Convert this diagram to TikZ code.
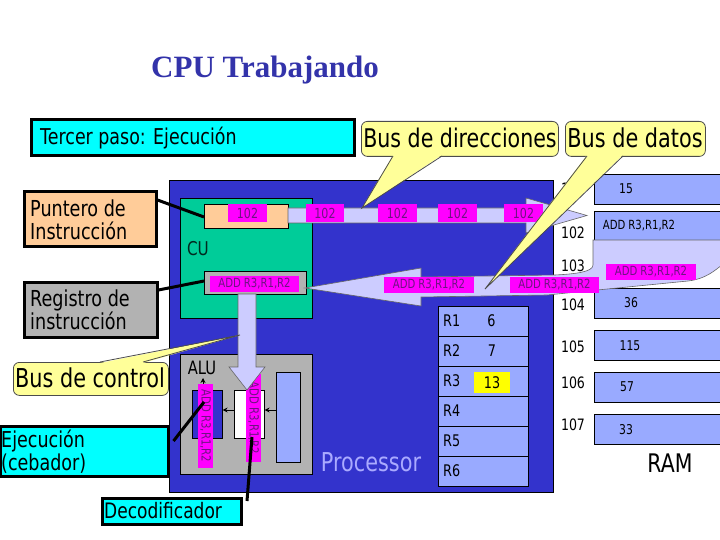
\documentclass[tikz,border=0pt]{standalone}
\usepackage{fontspec}
\setmainfont{DejaVu Sans}[FakeStretch=0.8]
\newfontfamily\ttlfont{Liberation Serif}
\usetikzlibrary{arrows.meta}
\definecolor{procblue}{RGB}{51,51,204}
\definecolor{cugreen}{RGB}{0,204,153}
\definecolor{peach}{RGB}{255,204,153}
\definecolor{greybox}{RGB}{178,178,178}
\definecolor{lav}{RGB}{204,204,255}
\definecolor{magbox}{RGB}{255,0,255}
\definecolor{magtext}{RGB}{110,20,130}
\definecolor{cellblue}{RGB}{153,170,255}
\definecolor{cyanbox}{RGB}{0,255,255}
\definecolor{callyellow}{RGB}{255,255,153}
\definecolor{hilite}{RGB}{255,255,0}
\definecolor{titleblue}{RGB}{51,51,170}
\definecolor{proctext}{RGB}{170,170,255}
\newcommand\fsz[2]{\fontsize{#1}{#2}\selectfont}
\begin{document}
\begin{tikzpicture}[x=1pt,y=-1pt,
  lblbox/.style={draw=black, line width=3pt, inner sep=0pt},
  callout/.style={draw=black!70, fill=callyellow, line width=0.8pt, rounded corners=6pt},
  wedge/.style={draw=black!70, line width=0.8pt},
  magl/.style={fill=magbox, text=magtext, inner sep=0pt, font=\fsz{12.6}{13}},
  cell/.style={draw=black, fill=cellblue, line width=1.2pt, inner sep=0pt},
  addr/.style={font=\fsz{15.7}{16}, inner sep=0pt},
  celltext/.style={font=\fsz{13.5}{14}, inner sep=0pt},
  bus/.style={fill=lav, draw=black!60, line width=0.6pt},
  leader/.style={line width=3pt},
  small/.style={-{Stealth[length=5pt,width=5pt]}, line width=1pt}]
\useasboundingbox (0,0) rectangle (720,540);
\fill[white] (0,0) rectangle (720,540);

% title
\node[font=\ttlfont\bfseries\fsz{31}{34}, text=titleblue] (title) at (265,70) {CPU Trabajando};

% step box
\node[lblbox, fill=cyanbox, minimum width=323, minimum height=36] (stepbox) at (192.5,138) {};
\node[anchor=west, font=\fsz{21.8}{24}, inner sep=0pt] (steptext) at (40,138) {Tercer paso: Ejecución};

% RAM cells
\foreach \nm/\yy in {c1/174, c2/211, c4/288, c5/330, c6/372, c7/414}
  \node[cell, anchor=north west, minimum width=140, minimum height=30] (\nm) at (594,\yy) {};
\node[celltext] (t15) at (626,189) {15};
\node[celltext, font=\fsz{12.6}{13}] (tadd) at (639,226) {ADD R3,R1,R2};
\node[celltext] (t36) at (631,303) {36};
\node[celltext] (t115) at (630,346) {115};
\node[celltext] (t57) at (627,387) {57};
\node[celltext] (t33) at (626,430) {33};
\node[addr] (a101) at (573,189) {101};
\node[addr] (a102) at (573,233) {102};
\node[addr] (a103) at (573,266) {103};
\node[addr] (a104) at (573,305) {104};
\node[addr] (a105) at (573,347) {105};
\node[addr] (a106) at (573,383) {106};
\node[addr] (a107) at (573,425) {107};
\node[font=\fsz{25.6}{28}, inner sep=0pt] (ram) at (670,463) {RAM};

% processor
\node[draw=black, fill=procblue, line width=1pt, anchor=north west, minimum width=384, minimum height=312, inner sep=0pt] (proc) at (168.5,180) {};
\node[font=\fsz{26}{28}, text=proctext, inner sep=0pt] (proctxt) at (371,462) {Processor};

% CU
\node[draw=black, fill=cugreen, line width=0.8pt, anchor=north west, minimum width=132, minimum height=120, inner sep=0pt] (cu) at (180,198) {};
\node[font=\fsz{19}{20}, text=black!80!cugreen, inner sep=0pt] (cutxt) at (198,249) {CU};
\node[draw=black, fill=peach, line width=0.8pt, anchor=north west, minimum width=84, minimum height=24, inner sep=0pt] (pc) at (204,204) {};
\node[draw=black, fill=greybox, line width=0.8pt, anchor=north west, minimum width=102, minimum height=23, inner sep=0pt] (ir) at (204,271) {};

% address bus
\path[bus] (288,208) -- (526,208) -- (526,198) -- (587,215.5) -- (526,233) -- (526,223) -- (288,223) -- cycle;
\node[magl, font=\fsz{13.8}{14}, minimum width=39, minimum height=18] (m0) at (247.5,213) {102};
\node[magl, font=\fsz{13.8}{14}, minimum width=38, minimum height=18] (m1) at (325,213.5) {102};
\node[magl, font=\fsz{13.8}{14}, minimum width=39, minimum height=18] (m2) at (397.5,213.5) {102};
\node[magl, font=\fsz{13.8}{14}, minimum width=39, minimum height=18] (m3) at (457.5,213.5) {102};
\node[magl, font=\fsz{13.8}{14}, minimum width=39, minimum height=18] (m4) at (523.5,213.5) {102};

% data bus
\path[bus] (730,240) -- (593,240) -- (593,265) .. controls (593,272) and (575,274) .. (555,275)
  -- (421,277) -- (421,268) -- (305,288) -- (421,306) -- (421,297) -- (547,295)
  -- (688,281) .. controls (705,279) and (714,272) .. (730,258) -- cycle;
\node[magl, minimum width=89, minimum height=16] (irlab) at (254.5,284) {ADD R3,R1,R2};
\node[magl, minimum width=90, minimum height=16] (d1) at (429,285) {ADD R3,R1,R2};
\node[magl, minimum width=89, minimum height=16] (d2) at (554.5,285) {ADD R3,R1,R2};
\node[magl, minimum width=90, minimum height=16] (d3) at (651,272) {ADD R3,R1,R2};

% registers
\foreach \i/\yy in {1/306, 2/336, 3/366, 4/396, 5/426, 6/456} {
  \node[cell, line width=1pt, anchor=north west, minimum width=90, minimum height=30] (r\i) at (438,\yy) {};
  \node[anchor=west, font=\fsz{16}{17}, inner sep=0pt] (rl\i) at (443,\yy+15) {R\i};
}
\node[font=\fsz{16}{17}, inner sep=0pt] (v1) at (491.5,321) {6};
\node[font=\fsz{16}{17}, inner sep=0pt] (v2) at (492,351) {7};
\node[fill=hilite, minimum width=36, minimum height=21, inner sep=0pt, font=\fsz{16}{17}] (v3) at (492,382.5) {13};

% ALU
\node[draw=black, fill=greybox, line width=0.8pt, anchor=north west, minimum width=132, minimum height=120, inner sep=0pt] (alu) at (180,354) {};
\node[font=\fsz{18.4}{20}, inner sep=0pt] (alutxt) at (202,368) {ALU};
\node[draw=black, fill=procblue, line width=0.6pt, anchor=north west, minimum width=30, minimum height=48, inner sep=0pt] (acc) at (192,390) {};
\node[draw=black, fill=white, line width=0.6pt, anchor=north west, minimum width=30, minimum height=48, inner sep=0pt] (dec) at (234,390) {};
\node[draw=black, fill=cellblue, line width=0.6pt, anchor=north west, minimum width=24, minimum height=90, inner sep=0pt] (tall) at (276,372) {};
\draw[small] (tall.west |- 0,410) -- (dec.east |- 0,410);
\draw[small] (dec.west |- 0,410) -- (acc.east |- 0,410);
\coordinate (upstart) at (203,386);
\coordinate (upend) at (203,378);
\draw[small] (upstart) -- (upend);
\node[magl, rotate=-90, minimum width=84, minimum height=15] (alul) at (205.5,426) {ADD R3,R1,R2};
\node[magl, rotate=-90, minimum width=88, minimum height=15] (alur) at (253.5,418) {ADD R3,R1,R2};

% control bus arrow
\path[bus] (238,294) -- (256,294) -- (256,367) -- (265,367) -- (247,390) -- (229,367) -- (238,367) -- cycle;

% callouts
\node[callout, anchor=north west, minimum width=197, minimum height=35, inner sep=0pt] (cdir) at (361,121) {};
\fill[callyellow] (393,155) -- (362,208) -- (442,155) -- cycle;
\draw[wedge] (393,156) -- (362,208) -- (442,156);
\node[font=\fsz{25.7}{28}, inner sep=0pt] (cdirt) at (460,138) {Bus de direcciones};

\node[callout, anchor=north west, minimum width=140, minimum height=35, inner sep=0pt] (cdat) at (565,121) {};
\fill[callyellow] (587,155) -- (485,289) -- (623,155) -- cycle;
\draw[wedge] (587,156) -- (485,289) -- (623,156);
\node[font=\fsz{26}{28}, inner sep=0pt] (cdatt) at (635,138) {Bus de datos};

\node[callout, anchor=north west, minimum width=155, minimum height=33, inner sep=0pt] (cctl) at (13,362) {};
\fill[callyellow] (100,363) -- (240,335) -- (143,363) -- cycle;
\draw[wedge] (100,362) -- (240,335) -- (143,362);
\node[font=\fsz{26}{28}, inner sep=0pt] (cctlt) at (90,378) {Bus de control};

% side labels
\node[lblbox, fill=peach, minimum width=132, minimum height=54] (lpc) at (90,219) {};
\node[anchor=west, align=left, font=\fsz{22}{23}, inner sep=0pt] (lpct) at (30,220) {Puntero de\\Instrucción};
\node[lblbox, fill=greybox, minimum width=133, minimum height=55] (lir) at (90.5,309.5) {};
\node[anchor=west, align=left, font=\fsz{22}{23.5}, inner sep=0pt] (lirt) at (30,310) {Registro de\\instrucción};
\node[lblbox, fill=cyanbox, minimum width=168, minimum height=50] (lex) at (84,451) {};
\node[anchor=west, align=left, font=\fsz{21.9}{23}, inner sep=0pt] (lext) at (1,452) {Ejecución\\(cebador)};
\node[lblbox, fill=cyanbox, minimum width=139, minimum height=26] (ldec) at (171.5,511) {};
\node[anchor=west, font=\fsz{21.3}{23}, inner sep=0pt] (ldect) at (104,511) {Decodificador};

% leader lines
\draw[leader] (lpc.east |- 0,200) -- (pc.west |- 0,217);
\draw[leader] (lir.east |- 0,290) -- (ir.west |- 0,281);
\coordinate (exend) at (204,402);
\draw[leader] (lex.east |- 0,441) ++(4,0) -- (exend);
\coordinate (decend) at (252,437);
\draw[leader] (247,501) -- (decend);
\end{tikzpicture}
\end{document}
